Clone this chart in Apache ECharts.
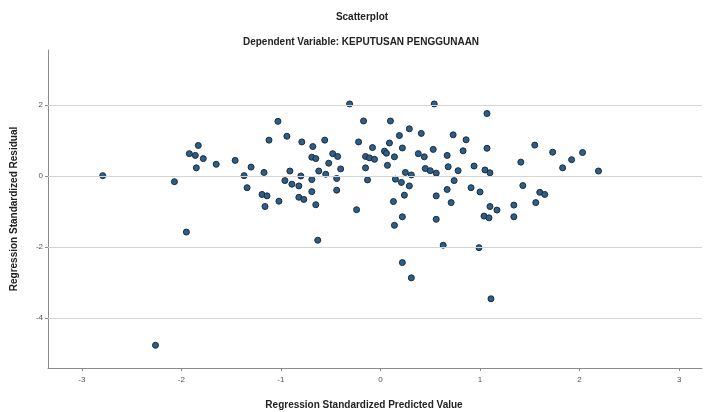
<!DOCTYPE html>
<html>
<head>
<meta charset="utf-8">
<script src="https://cdn.jsdelivr.net/npm/echarts@6/dist/echarts.min.js"></script>
<style>html,body{margin:0;padding:0;background:#fff;}#chart{width:704px;height:412px;}</style>
</head>
<body>
<div id="chart"></div>
<script>
const chartTitle = 'Scatterplot';
const chartSubtitle = 'Dependent Variable: KEPUTUSAN PENGGUNAAN';
const xAxisName = 'Regression Standardized Predicted Value';
const yAxisName = 'Regression Standardized Residual';
const xTicks = [-3, -2, -1, 0, 1, 2, 3];
const yTicks = [-4, -2, 0, 2];

const predicted = [
  -2.79, -2.07, -1.95, -1.83, -1.92, -1.86, -1.78, -1.85, -1.65, -1.46,
  -1.30, -1.37, -1.34, -1.17, -1.19, -1.14, -1.16, -1.12, -1.03, -1.02,
  -2.26, -0.94, -0.91,
  -0.31, 0.54, 1.07, -0.17, 0.10, -0.79, -0.56, -0.68, -0.69, -0.65,
  -0.48, -0.43, -0.52, -0.40, -0.62, -0.55, -0.44, -0.44, -0.69, -0.69,
  -0.65, -0.80, -0.96, -0.89, -0.82, -0.82, -0.77, -0.63, -0.24, -0.22,
  -0.08, 0.09, 0.19, 0.29, 0.41, 0.22, 0.04, 0.06, 0.14, 0.07,
  -0.15, -0.11, -0.06, -0.15, -0.13, 0.15, 0.21, 0.29, 0.25, 0.31,
  0.24, 0.13, 0.22, 0.14, 0.38, 0.44, 0.53, 0.45, 0.50, 0.56,
  0.56, 0.56, 0.63, 0.67, 0.68, 0.73, 0.86, 0.83, 0.78, 0.74,
  0.67, 0.71, 0.94, 0.91, 1.00, 1.07, 1.05, 1.10, 1.10, 1.17,
  1.04, 1.09, 0.99, 0.22, 0.31, 1.11,
  1.55, 1.73, 2.03, 1.92, 1.83, 1.41, 2.19, 1.43, 1.60, 1.65,
  1.56, 1.34, 1.34
];
const residual = [
  0.01, -0.16, -1.58, 0.86, 0.63, 0.58, 0.49, 0.23, 0.33, 0.44,
  0.25, 0.01, -0.33, 0.10, -0.52, -0.56, -0.86, 1.01, 1.54, -0.71,
  -4.77, 1.12, 0.14,
  2.03, 2.03, 1.76, 1.55, 1.55, 0.96, 1.01, 0.83, 0.53, 0.49,
  0.63, 0.55, 0.36, 0.20, 0.14, 0.05, -0.07, -0.40, -0.10, -0.44,
  -0.81, 0.00, -0.13, -0.23, -0.28, -0.60, -0.66, -1.81, -0.95, 0.96,
  0.80, 0.93, 1.14, 1.33, 1.20, 0.79, 0.70, 0.64, 0.54, 0.30,
  0.55, 0.51, 0.47, 0.23, -0.11, -0.09, -0.18, -0.28, 0.10, 0.03,
  -0.54, -0.72, -1.15, -1.39, 0.63, 0.54, 0.75, 0.21, 0.15, 0.08,
  -0.56, -1.22, -1.95, 0.58, 0.26, 1.16, 1.02, 0.71, 0.15, -0.13,
  -0.38, -0.75, 0.28, -0.33, -0.45, 0.78, 0.17, 0.09, -0.86, -0.96,
  -1.13, -1.18, -2.02, -2.44, -2.87, -3.46,
  0.87, 0.67, 0.66, 0.46, 0.23, 0.39, 0.14, -0.27, -0.46, -0.52,
  -0.75, -0.82, -1.15
];

const points = predicted.map((x, i) => [x, residual[i]]);
const font = '"Liberation Sans", Arial, sans-serif';

const chart = echarts.init(document.getElementById('chart'), null, {renderer: 'canvas'});
chart.setOption({
  animation: false,
  backgroundColor: '#ffffff',
  graphic: [
    {type: 'text', x: 362, y: 17, style: {text: chartTitle, font: 'bold 10px ' + font, fill: '#222', align: 'center', verticalAlign: 'middle'}},
    {type: 'text', x: 361, y: 42, style: {text: chartSubtitle, font: 'bold 10px ' + font, fill: '#222', align: 'center', verticalAlign: 'middle'}},
    {type: 'text', x: 364, y: 405, style: {text: xAxisName, font: 'bold 10px ' + font, fill: '#222', align: 'center', verticalAlign: 'middle'}}
  ],
  grid: {left: 48, right: 2, top: 50, bottom: 44, containLabel: false},
  xAxis: {
    type: 'value', min: -3.34, max: 3.23,
    axisLine: {show: true, onZero: false, lineStyle: {color: '#8a8a8a', width: 1}},
    axisTick: {show: true, customValues: xTicks, length: 3, lineStyle: {color: '#8a8a8a'}},
    axisLabel: {show: true, customValues: xTicks, fontSize: 8, color: '#555', fontFamily: font, margin: 8},
    splitLine: {show: false}
  },
  yAxis: {
    type: 'value', min: -5.41, max: 3.55,
    name: yAxisName, nameLocation: 'middle', nameGap: 29,
    nameTextStyle: {fontSize: 10, fontWeight: 'bold', color: '#222', fontFamily: font},
    axisLine: {show: true, onZero: false, lineStyle: {color: '#8a8a8a', width: 1}},
    axisTick: {show: true, customValues: yTicks, length: 3, lineStyle: {color: '#8a8a8a'}},
    axisLabel: {show: true, customValues: yTicks, fontSize: 8, color: '#555', fontFamily: font, margin: 5},
    splitLine: {show: false}
  },
  series: [
    {
      type: 'scatter', data: [], z: 1, silent: true,
      markLine: {
        silent: true, symbol: ['none', 'none'], label: {show: false},
        lineStyle: {color: '#d4d4d4', type: 'solid', width: 1},
        data: yTicks.map(v => ({yAxis: v}))
      }
    },
    {
      type: 'scatter', z: 3, data: points, symbol: 'circle', symbolSize: 6,
      itemStyle: {color: '#2b5f8a', borderColor: '#1c2b3a', borderWidth: 1, opacity: 1}
    }
  ]
});
</script>
</body>
</html>
